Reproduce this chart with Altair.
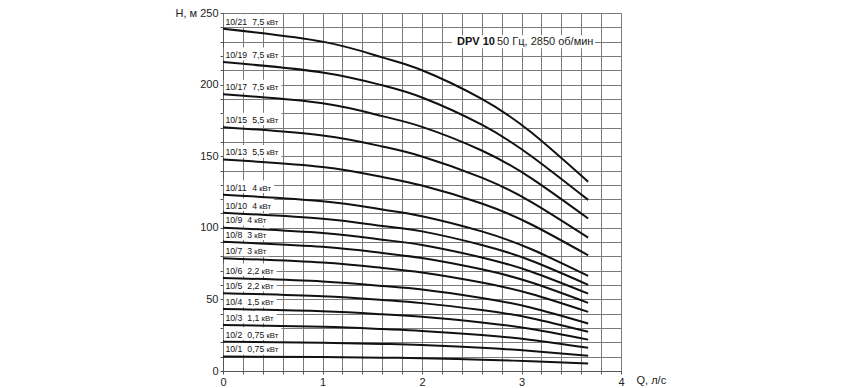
import altair as alt
import pandas as pd

# ---- data ----
models = ["10/21", "10/19", "10/17", "10/15", "10/13", "10/11", "10/10", "10/9",
          "10/8", "10/7", "10/6", "10/5", "10/4", "10/3", "10/2", "10/1"]
powers = ["7,5", "7,5", "7,5", "5,5", "5,5", "4", "4", "4",
          "3", "3", "2,2", "2,2", "1,5", "1,1", "0,75", "0,75"]
q_points = [0, 1, 1.6, 2, 2.6, 3.1, 3.67]

h_10_21 = [239.0, 230.0, 219.0, 210.0, 190.0, 166.5, 132.1]
h_10_19 = [215.7, 208.5, 199.5, 191.0, 172.0, 150.0, 119.5]
h_10_17 = [193.3, 187.0, 178.0, 170.5, 154.0, 134.5, 106.5]
h_10_15 = [170.3, 164.5, 156.8, 149.8, 135.0, 118.0, 93.2]
h_10_13 = [147.7, 142.5, 135.5, 129.5, 117.0, 102.3, 80.8]
h_10_11 = [123.1, 118.5, 112.8, 108.1, 97.5, 85.0, 66.4]
h_10_10 = [110.5, 106.3, 101.3, 97.5, 88.0, 77.0, 60.2]
h_10_9 = [100.1, 96.3, 91.7, 88.0, 79.3, 69.3, 54.0]
h_10_8 = [90.2, 86.7, 82.4, 78.9, 71.0, 61.8, 47.6]
h_10_7 = [78.8, 75.7, 72.0, 68.8, 61.8, 53.8, 41.3]
h_10_6 = [65.0, 62.5, 59.4, 56.9, 51.0, 44.2, 33.2]
h_10_5 = [54.3, 52.2, 49.6, 47.4, 42.6, 36.9, 27.4]
h_10_4 = [43.3, 41.7, 39.6, 37.8, 33.9, 29.3, 21.9]
h_10_3 = [32.1, 30.9, 29.3, 28.0, 25.1, 21.7, 16.2]
h_10_2 = [20.4, 19.7, 18.9, 18.2, 16.3, 14.0, 10.7]
h_10_1 = [10.1, 9.7, 9.3, 8.9, 7.9, 6.8, 5.2]

series = [h_10_21, h_10_19, h_10_17, h_10_15, h_10_13, h_10_11, h_10_10, h_10_9,
          h_10_8, h_10_7, h_10_6, h_10_5, h_10_4, h_10_3, h_10_2, h_10_1]

x_ticks = [round(i * 0.2, 1) for i in range(21)]
y_ticks = list(range(0, 251, 10))

title_bold = "DPV 10"
title_rest = "50 Гц, 2850 об/мин"
unit = "кВт"

# ---- tables built from the arrays ----
rows = []
for m, hs in zip(models, series):
    for q, h in zip(q_points, hs):
        rows.append({"model": m, "Q": q, "H": h})
curves = pd.DataFrame(rows)

PLOT_W, PLOT_H = 398, 358
PX_PER_Q = PLOT_W / 4.0
PX_PER_H = PLOT_H / 250.0
W = {c: 0.556 for c in "0123456789"}
W.update({"/": 0.278, ",": 0.278, " ": 0.278})
FS_MAIN, FS_UNIT = 8.7, 7.8


def width(s, fs):
    return sum(W.get(c, 0.556) for c in s) * fs


lab = []
for m, p, hs in zip(models, powers, series):
    x_m = 2.4
    x_p = x_m + width(m, FS_MAIN) + 5.0
    x_u = x_p + width(p, FS_MAIN) + 2.2
    x_end = x_u + 1.53 * FS_UNIT + 3.0
    lab.append({
        "model": m, "power": p, "unit": unit,
        "xm": x_m / PX_PER_Q, "xp": x_p / PX_PER_Q, "xu": x_u / PX_PER_Q,
        "bx": 0.8 / PX_PER_Q, "bx2": x_end / PX_PER_Q,
        "by": hs[0] + 1.8 / PX_PER_H, "by2": hs[0] + 14.5 / PX_PER_H,
        "ty": hs[0] + 4.2 / PX_PER_H,
    })
labels = pd.DataFrame(lab)

FONT = "Liberation Sans"

xscale = alt.Scale(domain=[0, 4], nice=False, zero=False)
yscale = alt.Scale(domain=[0, 250], nice=False)


def x_axis():
    return alt.Axis(values=x_ticks, grid=True, gridColor="#7a7a7a", gridWidth=1,
                    labelExpr="abs(datum.value - round(datum.value)) < 0.01 ? format(datum.value, 'd') : ''",
                    labelOverlap=False, labelFlush=False,
                    title="Q, л/с", titleX=413, titleY=9, titleAlign="left",
                    titleBaseline="middle", titleFontWeight="normal", titleFontSize=11,
                    titleFont=FONT, titleColor="#222", labelFont=FONT, labelFontSize=11,
                    labelColor="#222", tickColor="#555", tickSize=3, labelPadding=2,
                    domainColor="#555")


def y_axis():
    return alt.Axis(values=y_ticks, grid=True, gridColor="#7a7a7a", gridWidth=1,
                    labelExpr="datum.value % 50 == 0 ? datum.label : ''",
                    labelOverlap=False, labelFlush=False,
                    title="H, м", titleAngle=0, titleX=-48, titleY=0, titleAlign="left",
                    titleBaseline="middle", titleFontWeight="normal", titleFontSize=11,
                    titleFont=FONT, titleColor="#222", labelFont=FONT, labelFontSize=11,
                    labelColor="#222", tickColor="#555", tickSize=3, labelPadding=2,
                    domainColor="#555")


boxes = alt.Chart(labels).mark_rect(fill="white").encode(
    x=alt.X("bx:Q", scale=xscale, axis=x_axis()),
    x2="bx2:Q",
    y=alt.Y("by:Q", scale=yscale, axis=y_axis()),
    y2="by2:Q",
)

lines = alt.Chart(curves).mark_line(color="#111", strokeWidth=2, interpolate="natural").encode(
    x=alt.X("Q:Q", scale=xscale, axis=x_axis()),
    y=alt.Y("H:Q", scale=yscale, axis=y_axis()),
    detail="model:N",
)


def label_layer(xfield, tfield, fs):
    return alt.Chart(labels).mark_text(font=FONT, fontSize=fs, color="#111", align="left",
                                       baseline="alphabetic").encode(
        x=alt.X(f"{xfield}:Q", scale=xscale, axis=x_axis()),
        y=alt.Y("ty:Q", scale=yscale, axis=y_axis()), text=f"{tfield}:N")


t_model = label_layer("xm", "model", FS_MAIN)
t_power = label_layer("xp", "power", FS_MAIN)
t_unit = label_layer("xu", "unit", FS_UNIT)

TY = (250 - 230) / 250 * PLOT_H
one = pd.DataFrame({"t1": [title_bold], "t2": [title_rest]})
tbox = alt.Chart(one).mark_rect(fill="white").encode(
    x=alt.value(229), x2=alt.value(372), y=alt.value(TY - 6.5), y2=alt.value(TY + 6.5))
t1 = alt.Chart(one).mark_text(font=FONT, fontSize=11, fontWeight="bold", color="#111",
                              align="left", baseline="middle").encode(
    x=alt.value(234), y=alt.value(TY), text="t1:N")
t2 = alt.Chart(one).mark_text(font=FONT, fontSize=11, color="#222",
                              align="left", baseline="middle").encode(
    x=alt.value(274), y=alt.value(TY), text="t2:N")

chart = alt.layer(boxes, lines, t_model, t_power, t_unit, tbox, t1, t2).properties(
    width=PLOT_W, height=PLOT_H,
    autosize=alt.AutoSizeParams(type="none"),
    padding={"left": 215, "top": 5, "right": 70, "bottom": 20},
).configure_view(strokeWidth=0).configure(background="white")

chart.save("out.html", embed_options={"renderer": "svg", "actions": False})
